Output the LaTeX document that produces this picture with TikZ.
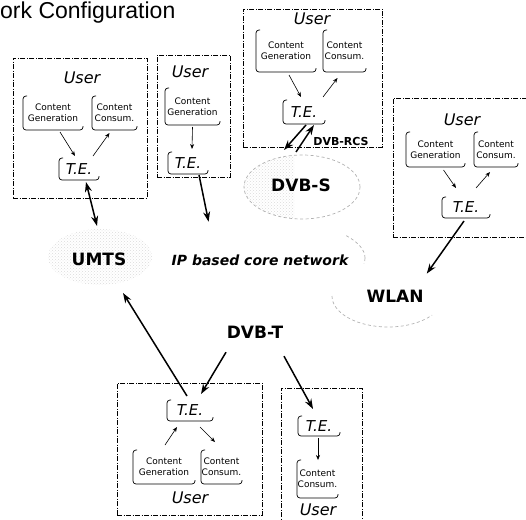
\documentclass[tikz,border=0pt]{standalone}
\usepackage{fontspec}
\setmainfont{DejaVu Sans}
\newfontfamily\titlefont{Liberation Sans}
\usetikzlibrary{arrows.meta,calc,patterns,shapes.geometric}
\begin{document}
\begin{tikzpicture}[x=1pt,y=-1pt,
  frame/.style={draw, line width=0.8pt, dash pattern=on 5pt off 1.5pt on 1pt off 1.5pt,
    inner sep=0pt, outer sep=0pt},
  brk/.style={line width=0.7pt, rounded corners=3pt},
  cbox/.style={inner sep=0pt, outer sep=0pt, font=\fontsize{9}{11}\selectfont, align=center},
  tebox/.style={inner sep=0pt, outer sep=0pt, font=\fontsize{15}{17}\selectfont\itshape},
  usr/.style={inner sep=0pt, font=\fontsize{16}{18}\selectfont\itshape},
  net/.style={inner sep=0pt, outer sep=0pt, font=\fontsize{17}{19}\selectfont\bfseries},
  cloudarea/.style={ellipse, inner sep=0pt, outer sep=0pt},
  small/.style={line width=0.6pt, -{Stealth[length=5pt,width=4pt]}},
  link/.style={line width=1.5pt, -{Stealth[length=10pt,width=7pt]}},
  speck/.style={pattern=crosshatch dots, pattern color=gray!28},
  haze/.style={draw=gray!60, line width=0.7pt, dash pattern=on 3pt off 2.5pt}]
\useasboundingbox (0,0) rectangle (526,519);

% bracket outline: left side, bottom side and two short ticks
\newcommand\brkt[1]{\draw[brk] ([xshift=4pt]#1.north west) -- (#1.north west)
  -- (#1.south west) -- (#1.south east) -- ([yshift=4pt]#1.south east);}

% heading at the top edge
\node[anchor=base west, inner sep=0pt, font=\titlefont\fontsize{23}{25}\selectfont]
  (title) at (0,19) {ork Configuration};

% ---------- clouds ----------
\node[cloudarea, minimum width=104pt, minimum height=56pt, speck] (umts) at (100,257) {};
\node[net] (umtslbl) at (99,259) {UMTS};

\node[cloudarea, minimum width=220pt, minimum height=80pt] (core) at (255,258) {};
\node[inner sep=0pt, font=\fontsize{14}{16}\selectfont\bfseries\itshape] (corelbl)
  at (260,260) {IP based core network};
\draw[haze] (core.east) arc[start angle=0, end angle=34, x radius=110pt, y radius=40pt];
\draw[haze] (core.east) arc[start angle=0, end angle=-8, x radius=110pt, y radius=40pt];

\node[cloudarea, minimum width=116pt, minimum height=64pt, haze,
  path picture={\fill[speck] (path picture bounding box.south west)
    rectangle ([xshift=-8pt]path picture bounding box.north);}] (dvbs) at (302,187) {};
\node[net] (dvbslbl) at (301,185) {DVB-S};
\node[inner sep=0pt, font=\fontsize{11}{13}\selectfont\bfseries] (rcs) at (341,141) {DVB-RCS};

\node[cloudarea, minimum width=112pt, minimum height=62pt] (wlan) at (388,296) {};
\node[net] (wlanlbl) at (395,296) {WLAN};
\draw[haze] (wlan.180) arc[start angle=180, end angle=322, x radius=56pt, y radius=31pt];

\node[net] (dvbt) at (255,332) {DVB-T};

% ---------- user 1 ----------
\node[frame, minimum width=134pt, minimum height=140pt] (u1) at (80,128) {};
\node[usr] (u1u) at (82,78) {User};
\node[cbox, minimum width=60pt, minimum height=34pt] (u1cg) at (53,113) {Content\\Generation};
\node[cbox, minimum width=45pt, minimum height=34pt] (u1cc) at (114.5,113) {Content\\Consum.};
\node[tebox, minimum width=40pt, minimum height=22pt] (u1te) at (79,169) {T.E.};
\brkt{u1cg}\brkt{u1cc}\brkt{u1te}
\draw[small] ($(u1cg.south)+(7,2)$) -- ($(u1te.north)+(-4,-2)$);
\draw[small] ($(u1te.north)+(14,-2)$) -- ($(u1cc.south)+(-5,3)$);

% ---------- user 2 ----------
\node[frame, minimum width=73pt, minimum height=122pt] (u2) at (193.5,116) {};
\node[usr] (u2u) at (190,72) {User};
\node[cbox, minimum width=55pt, minimum height=37pt] (u2cg) at (192.5,106.5) {Content\\Generation};
\node[tebox, minimum width=40pt, minimum height=22pt] (u2te) at (188,163) {T.E.};
\brkt{u2cg}\brkt{u2te}
\draw[small] ($(u2cg.south)+(0,2)$) -- ($(u2te.north)+(4,-3)$);

% ---------- user 3 ----------
\node[frame, minimum width=139pt, minimum height=138pt] (u3) at (312.5,78) {};
\node[usr] (u3u) at (312,19) {User};
\node[cbox, minimum width=60pt, minimum height=42pt] (u3cg) at (286,51) {Content\\Generation};
\node[cbox, minimum width=43pt, minimum height=42pt] (u3cc) at (344.5,51) {Content\\Consum.};
\node[tebox, minimum width=42pt, minimum height=24pt] (u3te) at (304,112) {T.E.};
\brkt{u3cg}\brkt{u3cc}\brkt{u3te}
\draw[small] ($(u3cg.south)+(3,3)$) -- ($(u3te.north)+(-3,-3)$);
\draw[small] ($(u3te.north)+(19,-3)$) -- ($(u3cc.south)+(-7,6)$);

% ---------- user 4 ----------
\node[frame, minimum width=137pt, minimum height=139pt] (u4) at (461.5,167.5) {};
\node[usr] (u4u) at (462,120) {User};
\node[cbox, minimum width=59pt, minimum height=35pt] (u4cg) at (435.5,149.5) {Content\\Generation};
\node[cbox, minimum width=44pt, minimum height=35pt] (u4cc) at (496,149.5) {Content\\Consum.};
\node[tebox, minimum width=48pt, minimum height=21pt] (u4te) at (466,207.5) {T.E.};
\brkt{u4cg}\brkt{u4cc}\brkt{u4te}
\draw[small] ($(u4cg.south)+(8,3)$) -- ($(u4te.north)+(-10,-9)$);
\draw[small] ($(u4te.north)+(10,-9)$) -- ($(u4cc.south)+(-6,5)$);

% ---------- user 5 ----------
\node[frame, minimum width=145pt, minimum height=132pt] (u5) at (189.5,449) {};
\node[tebox, minimum width=46pt, minimum height=21pt] (u5te) at (190,410.5) {T.E.};
\node[cbox, minimum width=62pt, minimum height=34pt] (u5cg) at (164,467) {Content\\Generation};
\node[cbox, minimum width=41pt, minimum height=34pt] (u5cc) at (221.5,467) {Content\\Consum.};
\node[usr] (u5u) at (190,498) {User};
\brkt{u5cg}\brkt{u5cc}\brkt{u5te}
\draw[small] ($(u5cg.north)+(1,-5)$) -- ($(u5te.south)+(-13,6)$);
\draw[small] ($(u5te.south)+(10,6)$) -- ($(u5cc.north)+(-6.5,-8)$);

% ---------- user 6 ----------
\node[frame, minimum width=81pt, minimum height=137pt] (u6) at (321.5,456.5) {};
\node[tebox, minimum width=42pt, minimum height=20pt] (u6te) at (319,426) {T.E.};
\node[cbox, minimum width=41pt, minimum height=38pt] (u6cc) at (317.5,479) {Content\\Consum.};
\node[usr] (u6u) at (318,510) {User};
\brkt{u6te}\brkt{u6cc}
\draw[small] ($(u6te.south)+(-1,2)$) -- ($(u6cc.north)+(0.5,0)$);

% ---------- access links ----------
\draw[link, {Stealth[length=10pt,width=7pt]}-{Stealth[length=10pt,width=7pt]}]
  ($(u1te.south)+(7,2)$) -- ($(umts.north)+(-3,-3)$);
\draw[link] ($(u2te.south)+(11,1)$) -- (core.142);
\draw[link] ($(u3te.south)+(2,1)$) -- ($(dvbs.north)+(-18,-5)$);
\draw[link] ($(dvbs.north)+(-6,-3)$) -- ($(u3te.south)+(10,1)$);
\draw[link] ($(u4te.south)+(-2,3)$) -- (wlan.30);
\draw[link] ($(u5te.north)+(-3,-4)$) -- ($(umts.south)+(23,8)$);
\draw[link] ($(dvbt.south)+(-29,14)$) -- ($(u5te.north)+(11,-6)$);
\draw[link] ($(dvbt.south)+(29,18)$) -- ($(u6te.north)+(-6,-7)$);
\end{tikzpicture}
\end{document}
